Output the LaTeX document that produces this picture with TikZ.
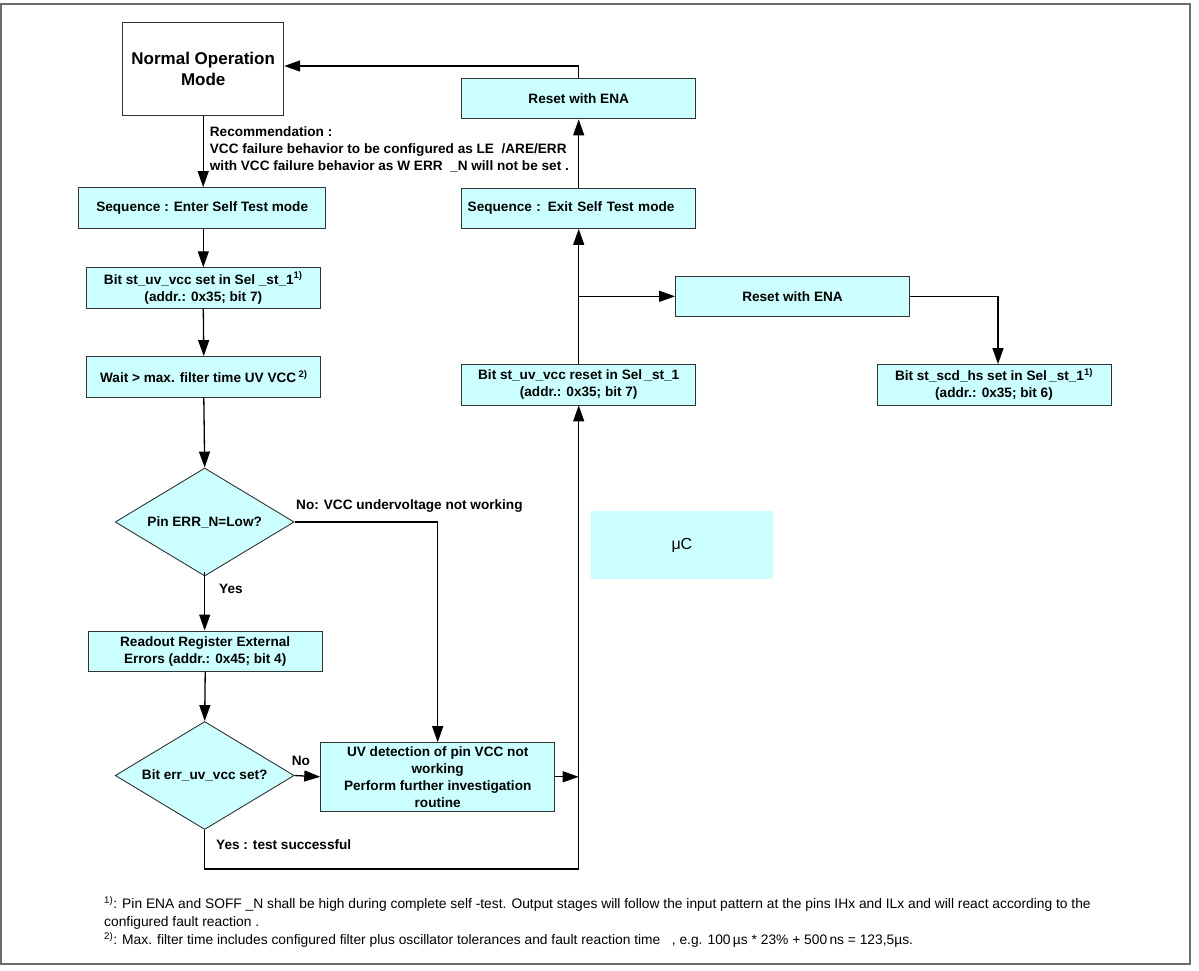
\documentclass[tikz,border=0pt]{standalone}
\usepackage{fontspec}
\setmainfont{Liberation Sans}
\usetikzlibrary{arrows.meta,shapes.geometric}
\definecolor{boxcyan}{RGB}{204,255,255}
\newcommand\boxfont{\bfseries\fontsize{13.6}{17}\selectfont}
\begin{document}
\begin{tikzpicture}[x=1pt,y=-1pt,
  box/.style={draw=black!80, fill=boxcyan, line width=0.9pt, minimum width=234pt, minimum height=40.5pt, inner sep=2pt, align=center, font=\boxfont},
  dec/.style={diamond, aspect=1.66, draw=black!80, fill=boxcyan, line width=0.9pt, minimum width=179pt, minimum height=108pt, inner sep=0pt, align=center, font=\boxfont},
  lbl/.style={anchor=west, inner sep=0pt, font=\boxfont, align=left},
  arr/.style={-{Triangle[length=16pt,width=11pt]}, line width=1.3pt},
  ln/.style={line width=1.3pt}]
\useasboundingbox (0,0) rectangle (1199,971);
\fill[white] (0,0) rectangle (1199,971);
\draw[gray!85!black, line width=2pt] (1,4) rectangle (1190,964);

% left column
\node[draw=black!80, fill=white, line width=1pt, minimum width=161pt, minimum height=93pt, align=center,
  font=\bfseries\fontsize{17}{21}\selectfont] (normal) at (203.2,68.6) {Normal Operation\\Mode};
\node[box, minimum width=247pt] (seqin) at (202.2,207.8) {Sequence : Enter Self Test mode};
\node[box] (bitset) at (203.3,288) {Bit st\_uv\_vcc set in Sel \_st\_1\textsuperscript{1)}\\(addr.: 0x35; bit 7)};
\node[box] (wait) at (203.8,376.8) {Wait > max. filter time UV VCC\,\textsuperscript{2)}};
\node[dec] (d1) at (204.7,522) {Pin ERR\_N=Low?};
\node[box] (readout) at (205.2,651.2) {Readout Register External\\Errors (addr.: 0x45; bit 4)};
\node[dec] (d2) at (204.7,775.5) {Bit err\_uv\_vcc set?};
\node[box, minimum height=68.3pt] (uv) at (437.7,776.8) {UV detection of pin VCC not\\working\\Perform further investigation\\routine};

% right column
\node[box] (resettop) at (578.7,98.7) {Reset with ENA};
\node[box, text width=222pt, align=left, inner xsep=6pt] (seqout) at (578.7,208.2) {Sequence : Exit Self Test mode};
\node[box] (reset2) at (792.5,296.3) {Reset with ENA};
\node[box] (bitreset) at (578.7,384.7) {Bit st\_uv\_vcc reset in Sel\,\_st\_1\\(addr.: 0x35; bit 7)};
\node[box] (bitscd) at (994,384.8) {Bit st\_scd\_hs set in Sel\,\_st\_1\textsuperscript{1)}\\(addr.: 0x35; bit 6)};
\node[fill=boxcyan, minimum width=181.7pt, minimum height=68.3pt, font=\fontsize{16}{19}\selectfont] (uc) at (681.9,545.2) {μC};

% labels
\node[lbl] (rec) at (209.7,149) {Recommendation :\\VCC failure behavior to be configured as LE\ \ /ARE/ERR\\with VCC failure behavior as W ERR\ \ \_N will not be set .};
\node[lbl] (nolbl) at (296,506) {No: VCC undervoltage not working};
\node[lbl] (yeslbl) at (219,589) {Yes};
\node[lbl] (no2lbl) at (291.7,760.7) {No};
\node[lbl] (yes2lbl) at (216,845) {Yes : test successful};

% connectors
\draw[arr] (normal.south) -- (normal.south |- seqin.north);
\draw[arr] (seqin.south -| bitset.north) -- (bitset.north);
\draw[arr] (bitset.south) -- (wait.north);
\draw[arr] (wait.south) -- (d1.north);
\draw[arr] ([yshift=4pt]d1.south) -- (d1.south |- readout.north);
\draw[arr] (readout.south) -- (d2.north);
\draw[arr] (d1.east) -| (uv.north);
\draw[arr] (d2.east) -- (uv.west);
\coordinate (bottomturn) at (0,869);
\draw[arr] (d2.south) -- (d2.south |- bottomturn) -| (bitreset.south);
\draw[arr] (uv.east) -- (uv.east -| bitreset.south);
\draw[arr] (bitreset.north) -- (seqout.south);
\draw[arr] (seqout.north) -- (resettop.south);
\coordinate (topturn) at (0,66);
\draw[arr] (resettop.north) -- (resettop.north |- topturn) -- (normal.east |- topturn);
\coordinate (junc) at (bitreset.north |- reset2.west);
\draw[arr] (junc) -- (reset2.west);
\draw[arr] (reset2.east) -| ([xshift=4pt]bitscd.north);

% footnotes
\node[anchor=north west, inner sep=0pt, align=left, font=\fontsize{13.8}{18}\selectfont] (notes) at (104,896)
 {\textsuperscript{1)}: Pin ENA and SOFF \_N shall be high during complete self -test. Output stages will follow the input pattern at the pins IHx and ILx and will react according to the\\
 configured fault reaction .\\
 \textsuperscript{2)}: Max. filter time includes configured filter plus oscillator tolerances and fault reaction time\ \ \ , e.g. 100\,µs * 23\% + 500\,ns = 123,5µs.};
\end{tikzpicture}
\end{document}
